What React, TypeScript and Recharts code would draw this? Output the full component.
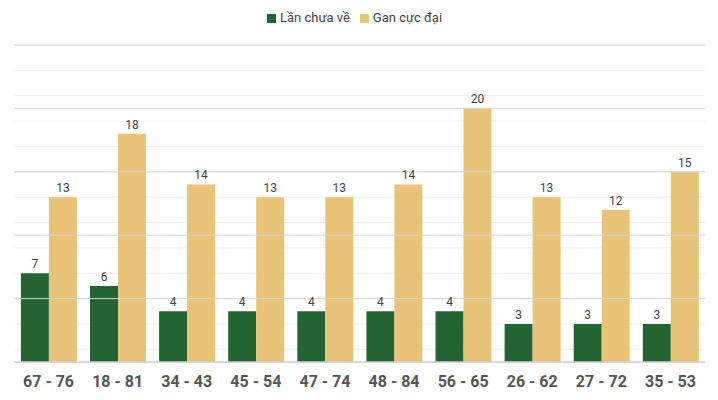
import { Bar, BarChart, CartesianGrid, LabelList, Legend, ReferenceLine, XAxis, YAxis } from "recharts";

const pairs = ["67 - 76", "18 - 81", "34 - 43", "45 - 54", "47 - 74", "48 - 84", "56 - 65", "26 - 62", "27 - 72", "35 - 53"];
const lanChuaVe = [7, 6, 4, 4, 4, 4, 4, 3, 3, 3];
const ganCucDai = [13, 18, 14, 13, 13, 14, 20, 13, 12, 15];
const minorTicks = [0, 1, 2, 3, 4, 5, 6, 7, 8, 9, 10, 11, 12, 13, 14, 15, 16, 17, 18, 19, 20, 21, 22, 23, 24, 25];
const majorTicks = [0, 5, 10, 15, 20, 25];

const data = pairs.map((p, i) => ({ pair: p, chua: lanChuaVe[i], gan: ganCucDai[i] }));

const GREEN = "#246332";
const GOLD = "#E8C378";

export default function App() {
  return (
    <div style={{ margin: -8, fontFamily: "Roboto, sans-serif" }}>
      <BarChart
        width={718}
        height={400}
        data={data}
        margin={{ top: 30, right: 13, left: 14, bottom: 0 }}
        barGap={0}
        barCategoryGap="10%"
      >
        <CartesianGrid vertical={false} stroke="#eeeeee" />
        <XAxis
          dataKey="pair"
          axisLine={{ stroke: "#cccccc" }}
          tickLine={false}
          height={38}
          tickMargin={8}
          tick={{ fill: "#555555", fontSize: 16, fontWeight: "bold" }}
        />
        <YAxis hide domain={[0, 25]} ticks={minorTicks} />
        {majorTicks.map((t) => (
          <ReferenceLine key={t} y={t} stroke="#d4d4d4" />
        ))}
        <Legend
          verticalAlign="top"
          align="center"
          iconType="square"
          iconSize={9}
          itemSorter="dataKey"
          wrapperStyle={{ fontSize: 13, top: 10 }}
          formatter={(v) => <span style={{ color: "#444" }}>{v}</span>}
        />
        <Bar dataKey="chua" name="Lần chưa về" fill={GREEN} isAnimationActive={false}>
          <LabelList dataKey="chua" position="top" fill="#444" fontSize={12} />
        </Bar>
        <Bar dataKey="gan" name="Gan cực đại" fill={GOLD} isAnimationActive={false}>
          <LabelList dataKey="gan" position="top" fill="#444" fontSize={12} />
        </Bar>
      </BarChart>
    </div>
  );
}
